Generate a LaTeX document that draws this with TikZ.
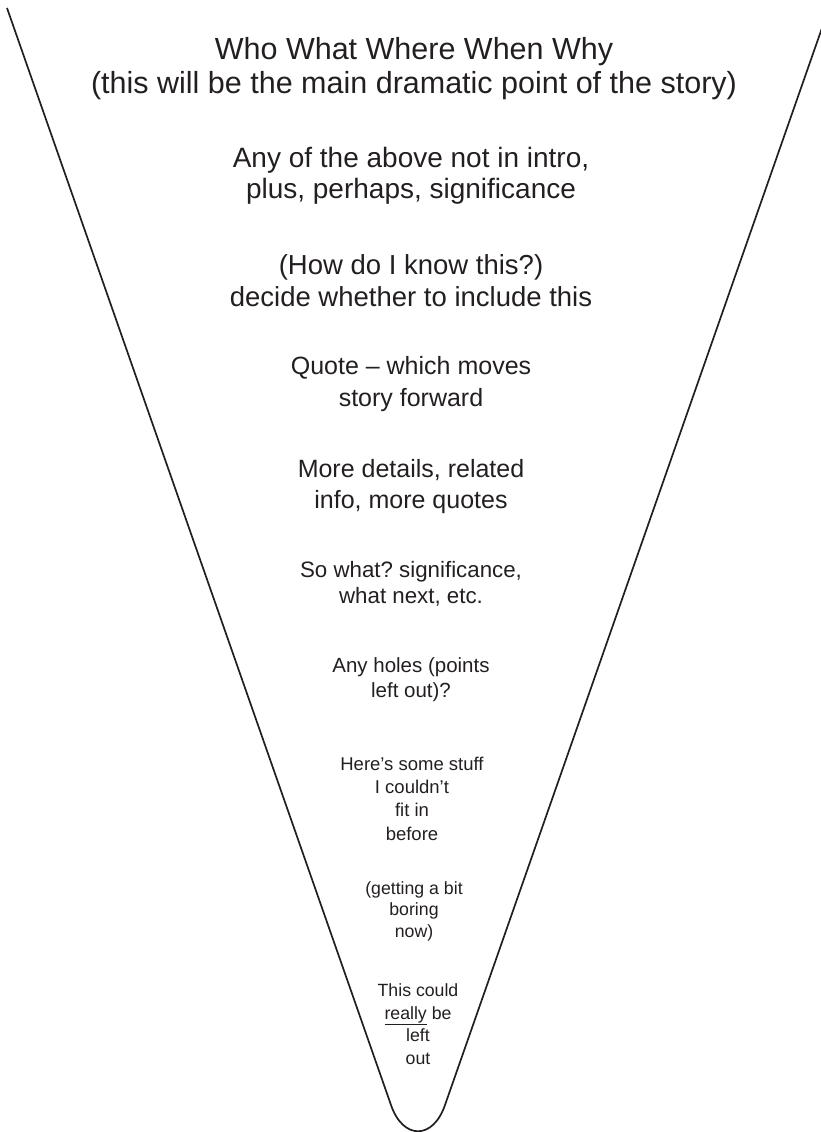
\documentclass[tikz,border=0pt]{standalone}
\usepackage{fontspec}
\setmainfont{Liberation Sans}
\frenchspacing
\definecolor{ink}{RGB}{35,31,32}
\begin{document}
\begin{tikzpicture}[x=1pt,y=-1pt,
  txt/.style={anchor=base,align=center,inner sep=0pt,text=ink},
  funnel/.style={draw=ink,line width=1.7pt,line join=round}]
\useasboundingbox (0,0) rectangle (821,1132);
\coordinate (lt) at (7,8);
\coordinate (lb) at (391,1105);
\coordinate (rb) at (445,1105);
\coordinate (rt) at (829,8);
\begin{scope}
\clip (0,0) rectangle (821,1132);
\draw[funnel] (lt) -- (lb) .. controls (403,1140) and (433,1140) .. (rb) -- (rt);
\end{scope}
\node[txt,font=\fontsize{30.5}{34}\selectfont] (b1) at (414,93) {Who What Where When Why\\(this will be the main dramatic point of the story)};
\node[txt,font=\fontsize{28}{31}\selectfont] (b2) at (411,198) {Any of the above not in intro,\\plus, perhaps, significance};
\node[txt,font=\fontsize{27.5}{32}\selectfont] (b3) at (411,306) {(How do I know this?)\\decide whether to include this};
\node[txt,font=\fontsize{25}{32}\selectfont] (b4) at (411,406) {Quote -- which moves\\story forward};
\node[txt,font=\fontsize{25}{30.5}\selectfont] (b5) at (411,508) {More details, related\\info, more quotes};
\node[txt,font=\fontsize{22.3}{26}\selectfont] (b6) at (411,603) {So what? significance,\\what next, etc.};
\node[txt,font=\fontsize{20.5}{24.7}\selectfont] (b7) at (411,697) {Any holes (points\\left out)?};
\node[txt,font=\fontsize{18.5}{23.3}\selectfont] (b8) at (412,840) {Here’s some stuff\\I couldn’t\\fit in\\before};
\node[txt,font=\fontsize{17.7}{21.5}\selectfont] (b9) at (414,937) {(getting a bit\\boring\\now)};
\node[txt,font=\fontsize{17.7}{22.5}\selectfont] (b10) at (418,1064) {This could\\\underline{really} be\\left\\out};
\end{tikzpicture}
\end{document}
